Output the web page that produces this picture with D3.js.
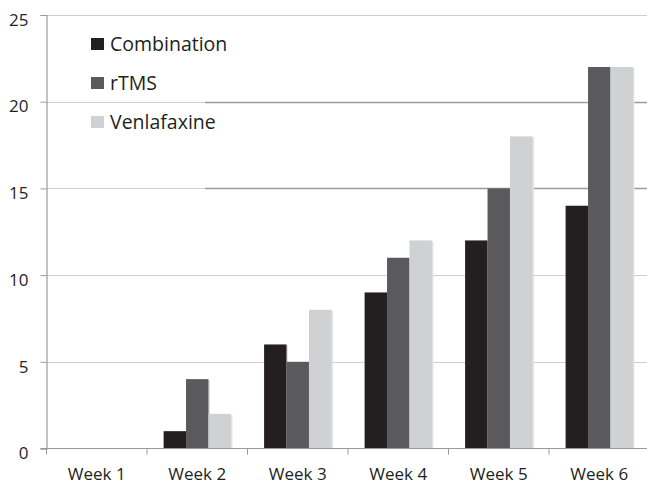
<!DOCTYPE html>
<html><head><meta charset="utf-8">
<script src="https://cdn.jsdelivr.net/npm/d3@7"></script>
<style>html,body{margin:0;padding:0;background:#fff;overflow:hidden}</style>
</head><body>
<svg id="c" width="647" height="484"></svg>
<script>
const categories = ["Week 1","Week 2","Week 3","Week 4","Week 5","Week 6"];
const seriesNames = ["Combination","rTMS","Venlafaxine"];
const combination = [0,1,6,9,12,14];
const rtms = [0,4,5,11,15,22];
const venlafaxine = [0,2,8,12,18,22];
const yTicks = [0,5,10,15,20,25];
const colors = ["#231f20","#5a5a5c","#d0d1d3"];

const seriesValues = [combination, rtms, venlafaxine];
const svg = d3.select("#c");
const font = "'Open Sans', 'DejaVu Sans', sans-serif";
const x0 = 46.5, x1 = 649.5, yTop = 15, yBot = 448.5;

const x = d3.scaleBand().domain(categories).range([x0, x1]).paddingInner(0).paddingOuter(0);
const xs = d3.scaleBand().domain(seriesNames).range([16.6, x.bandwidth()-16.6]).padding(0);
const y = d3.scaleLinear().domain([0,25]).range([yBot, yTop]);

// gridlines
const g = svg.append("g");
yTicks.filter(t=>t>0).forEach(t=>{
  g.append("line").attr("x1",x0).attr("x2",647).attr("y1",Math.round(y(t))+0.5).attr("y2",Math.round(y(t))+0.5)
   .attr("stroke","#cfcfcf").attr("stroke-width",1.2);
  if (t===15 || t===20) {
    g.append("line").attr("x1",205).attr("x2",647).attr("y1",Math.round(y(t))+0.5).attr("y2",Math.round(y(t))+0.5)
     .attr("stroke","#9c9c9c").attr("stroke-width",1.4);
  }
});

// bars
const data = [];
categories.forEach((c,i)=>seriesNames.forEach((s,j)=>data.push({c,s,v:seriesValues[j][i],col:colors[j]})));
const bars = svg.append("g");
bars.selectAll("rect.sh").data(data.filter(d=>d.v>0)).join("rect").attr("class","sh")
  .attr("x",d=>x(d.c)+xs(d.s)+1.5).attr("y",d=>y(d.v)+1).attr("width",xs.bandwidth())
  .attr("height",d=>yBot-y(d.v)-1).attr("fill","#e2e2e2");
bars.selectAll("rect.b").data(data).join("rect").attr("class","b")
  .attr("x",d=>x(d.c)+xs(d.s)).attr("y",d=>y(d.v)).attr("width",xs.bandwidth())
  .attr("height",d=>yBot-y(d.v)).attr("fill",d=>d.col);

// y axis
const yAxis = svg.append("g").attr("transform",`translate(${x0},0)`)
  .call(d3.axisLeft(y).tickValues(yTicks).tickSize(6).tickPadding(12));
yAxis.select(".domain").attr("stroke","#9a9a9a").attr("stroke-width",1.2);
yAxis.selectAll(".tick line").attr("stroke","#9a9a9a");
yAxis.selectAll(".tick text").attr("font-family",font).attr("font-size",17).attr("fill","#231f20").attr("dy","0.6em");

// x axis
const xAxis = svg.append("g").attr("transform",`translate(0,${yBot})`)
  .call(d3.axisBottom(x).tickSize(0).tickPadding(19));
xAxis.select(".domain").remove();
xAxis.append("line").attr("x1",x0-6).attr("x2",647).attr("y1",0).attr("y2",0).attr("stroke","#9a9a9a").attr("stroke-width",1.2);
xAxis.selectAll(".tick text").attr("font-family",font).attr("font-size",17).attr("fill","#231f20");
xAxis.selectAll("line.bt").data(categories).join("line").attr("class","bt")
  .attr("x1",d=>x(d)).attr("x2",d=>x(d)).attr("y1",0).attr("y2",6).attr("stroke","#9a9a9a");

// legend
const leg = svg.append("g");
seriesNames.forEach((s,i)=>{
  const yy = 51 + i*39;
  leg.append("rect").attr("x",91).attr("y",yy-13).attr("width",13).attr("height",12).attr("fill",colors[i]);
  leg.append("text").attr("x",110).attr("y",yy).text(s).attr("font-family",font).attr("font-size",19.5).attr("fill","#231f20");
});
</script>
</body></html>
